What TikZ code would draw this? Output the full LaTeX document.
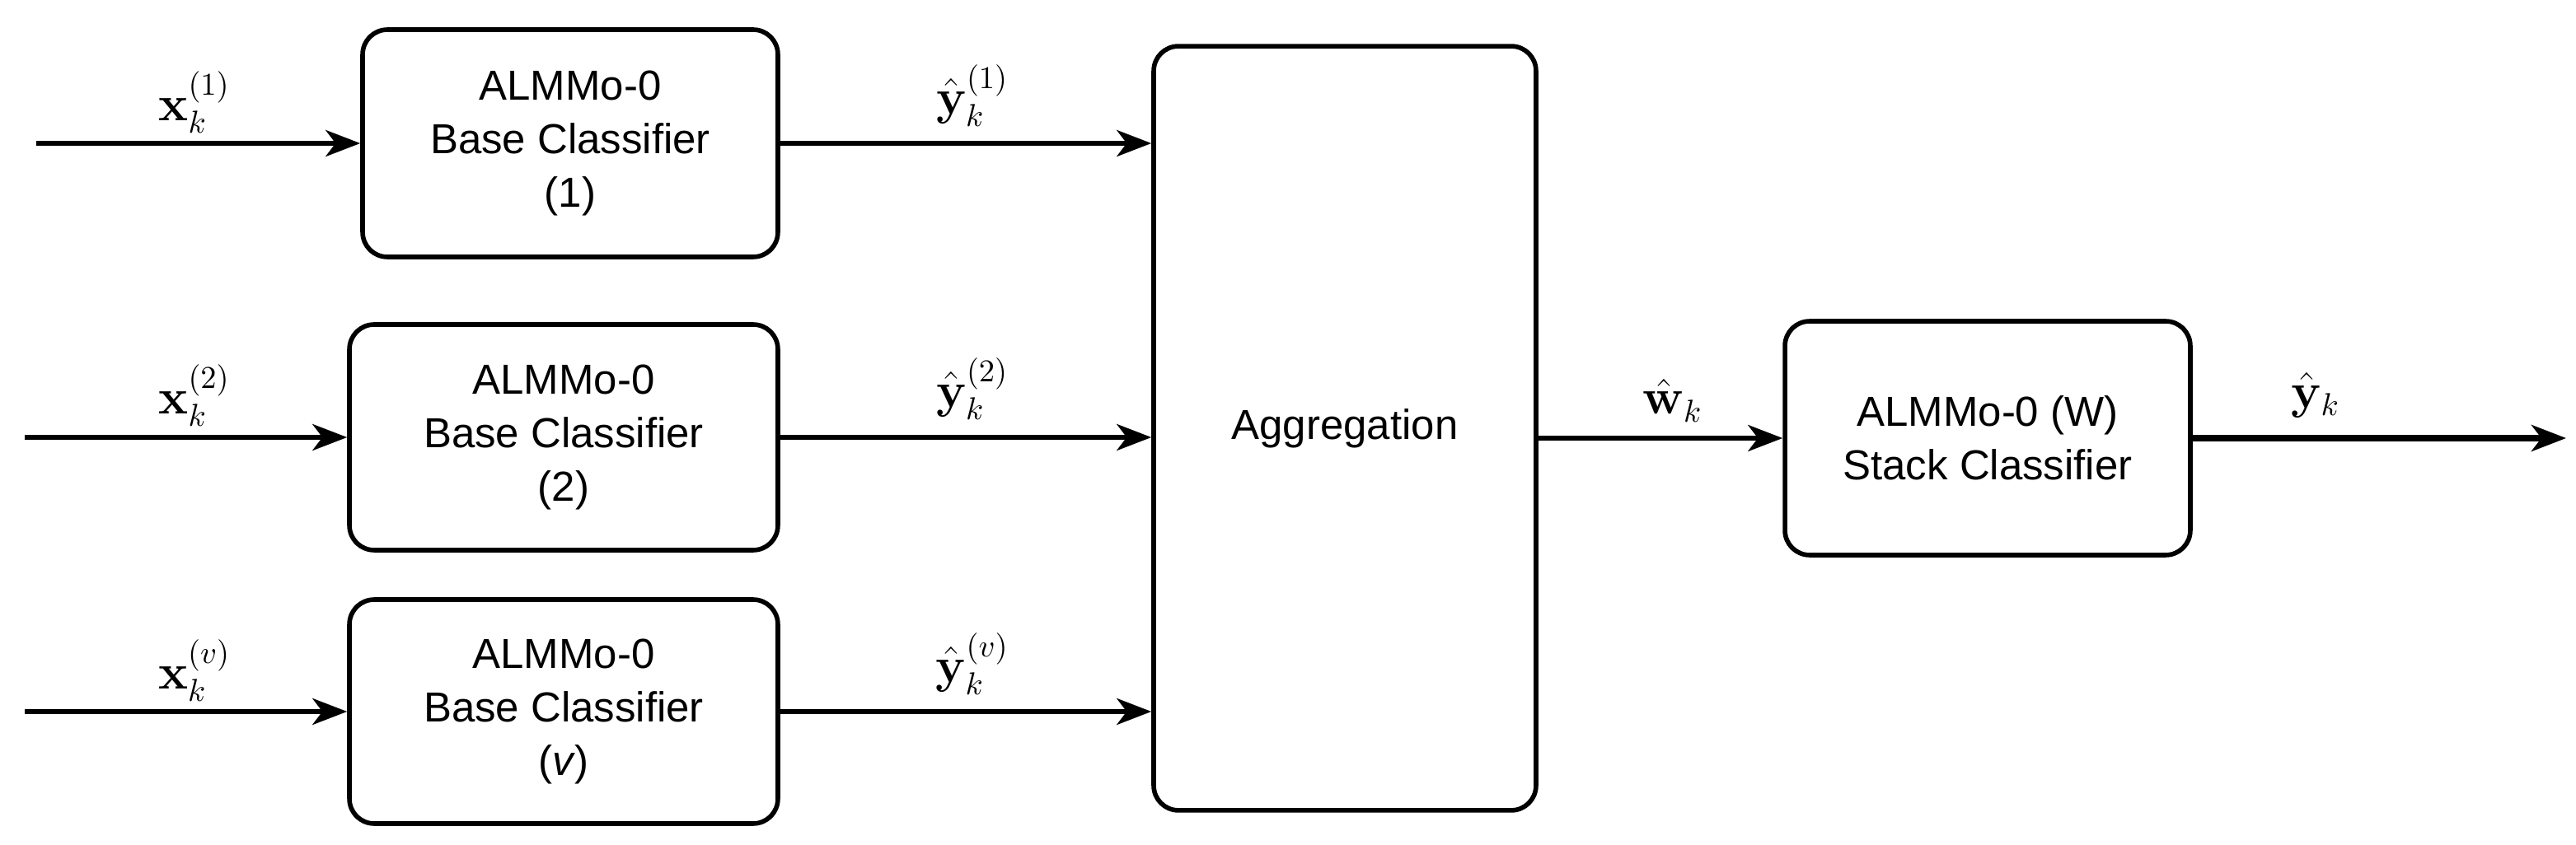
\documentclass[tikz,border=0pt]{standalone}
\usepackage{amsmath,amssymb}
\usepackage[no-math]{fontspec}
\setmainfont{Liberation Sans}
\usetikzlibrary{arrows.meta}
\begin{document}
\begin{tikzpicture}[x=0.02cm,y=-0.02cm,
  box/.style={draw,line width=1.6pt,rounded corners=0.3cm,align=center,inner sep=0pt,font=\fontsize{14.5}{18.5}\selectfont},
  arr/.style={line width=1.6pt,-{Stealth[length=0.42cm,width=0.32cm,inset=0.12cm]}},
  lab/.style={font=\fontsize{16}{19}\selectfont}]
\useasboundingbox (0,0) rectangle (1563,513);
\node[box,minimum width=5.04cm,minimum height=2.76cm] (b1) at (346,87) {ALMMo-0\\Base Classifier\\(1)};
\node[box,minimum width=5.2cm,minimum height=2.74cm] (b2) at (342,265.5) {ALMMo-0\\Base Classifier\\(2)};
\node[box,minimum width=5.2cm,minimum height=2.72cm] (b3) at (342,432) {ALMMo-0\\Base Classifier\\(\textit{v})};
\node[box,minimum width=4.64cm,minimum height=9.28cm] (agg) at (816,260) {Aggregation};
\node[box,minimum width=4.92cm,minimum height=2.84cm] (st) at (1206,266) {ALMMo-0 (W)\\Stack Classifier};
\coordinate (i1) at (22,87);
\coordinate (i2) at (15,265.5);
\coordinate (i3) at (15,432);
\coordinate (o) at (1557,266);
\draw[arr] (i1) -- (b1.west);
\draw[arr] (i2) -- (b2.west);
\draw[arr] (i3) -- (b3.west);
\draw[arr] (b1.east) -- (b1.east -| agg.west);
\draw[arr] (b2.east) -- (b2.east -| agg.west);
\draw[arr] (b3.east) -- (b3.east -| agg.west);
\draw[arr] (agg.east |- st.west) -- (st.west);
\draw[arr,line width=2pt] (st.east) -- (o);
\node[lab] (l1) at (118,62) {$\mathbf{x}_k^{(1)}$};
\node[lab] (l2) at (118,240) {$\mathbf{x}_k^{(2)}$};
\node[lab] (l3) at (118,407) {$\mathbf{x}_k^{(v)}$};
\node[lab] (m1) at (590,58) {$\hat{\mathbf{y}}_k^{(1)}$};
\node[lab] (m2) at (590,236) {$\hat{\mathbf{y}}_k^{(2)}$};
\node[lab] (m3) at (590,403) {$\hat{\mathbf{y}}_k^{(v)}$};
\node[lab] (w) at (1015,243) {$\hat{\mathbf{w}}_k$};
\node[lab] (y) at (1405,240) {$\hat{\mathbf{y}}_k$};
\end{tikzpicture}
\end{document}
